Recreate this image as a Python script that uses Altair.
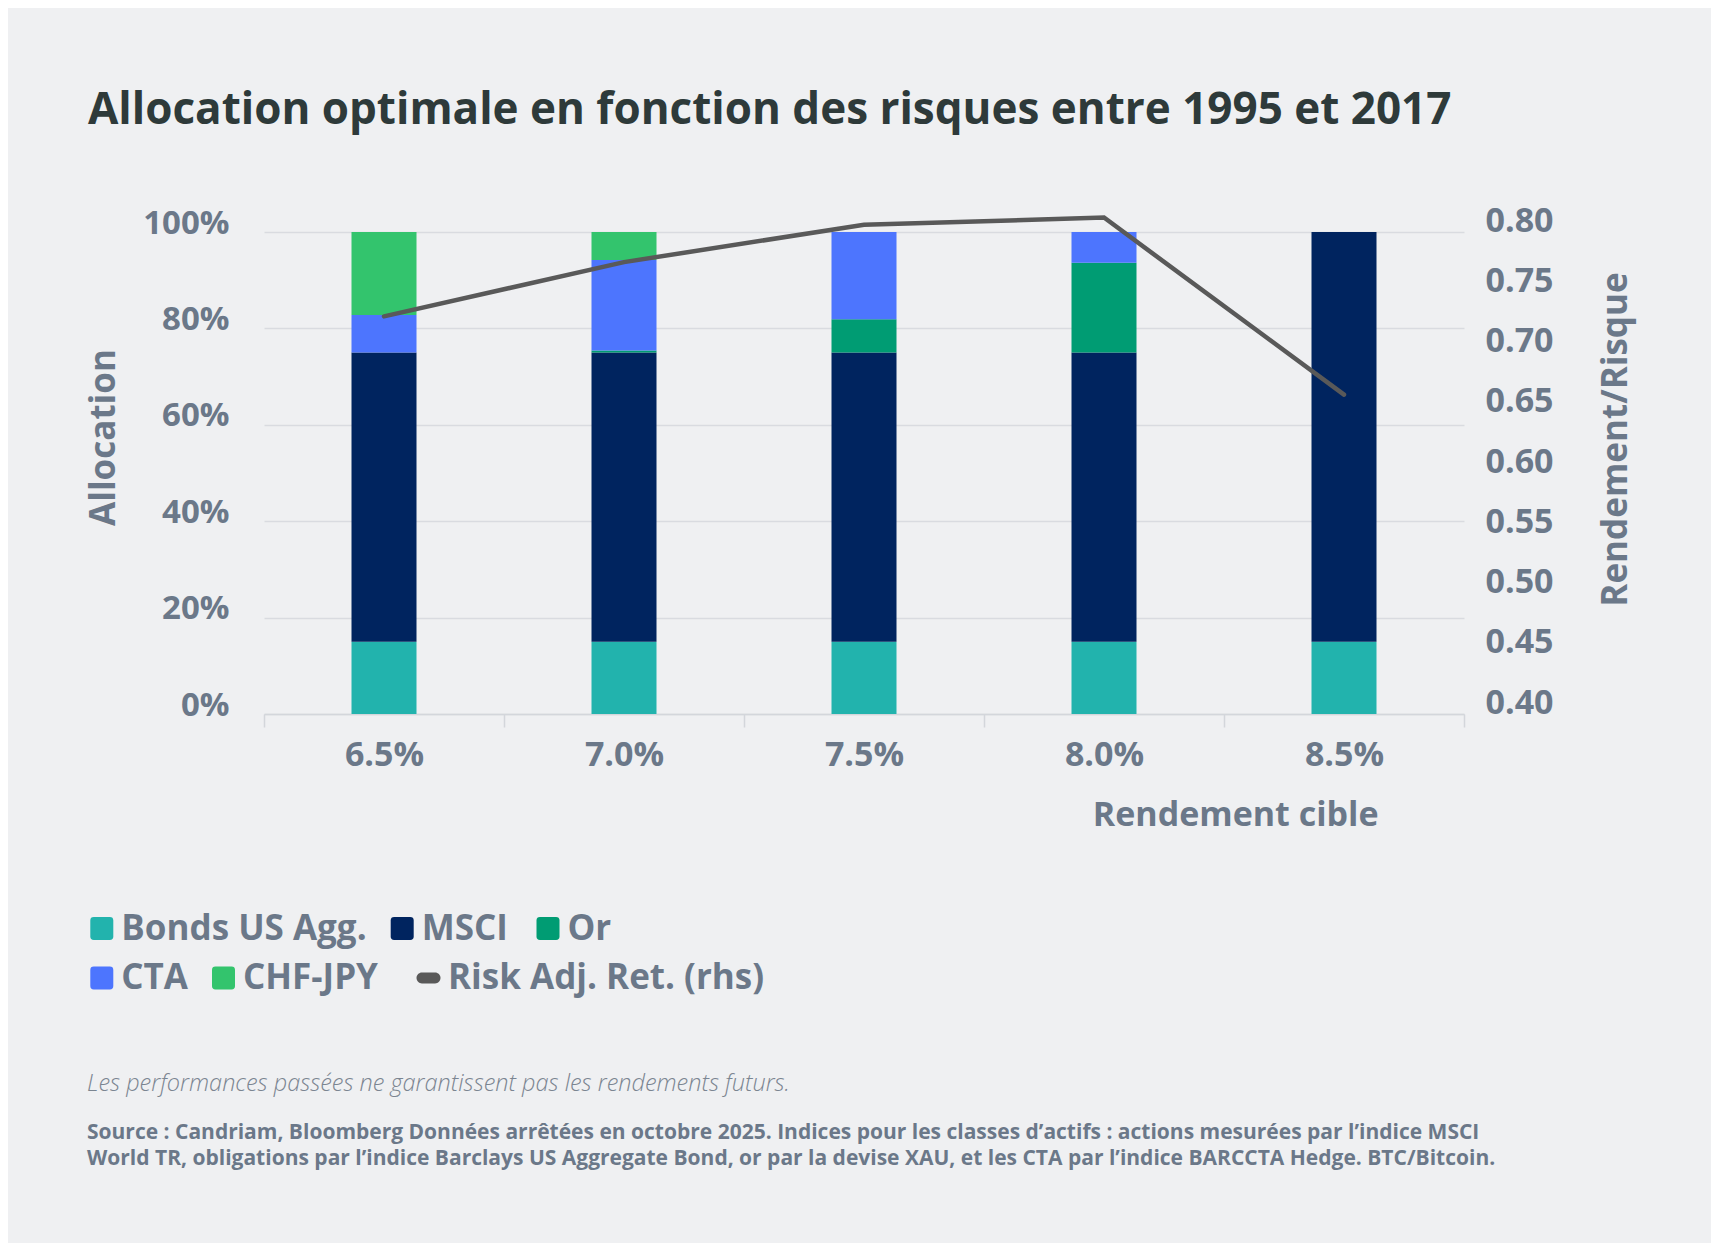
import altair as alt
import pandas as pd

# ---- data ----
targets = ["6.5%", "7.0%", "7.5%", "8.0%", "8.5%"]
assets = ["Bonds US Agg.", "MSCI", "Or", "CTA", "CHF-JPY"]
bonds = [15, 15, 15, 15, 15]
msci = [60, 60, 60, 60, 85]
gold = [0, 0.4, 6.9, 18.6, 0]
cta = [7.8, 18.8, 18.1, 6.4, 0]
chf_jpy = [17.2, 5.8, 0, 0, 0]
risk_adj = [0.73, 0.775, 0.806, 0.812, 0.665]
line_name = "Risk Adj. Ret. (rhs)"

asset_colors = ["#22b3ad", "#00245f", "#009c73", "#4d75fe", "#33c46d"]
line_color = "#595959"

title_text = "Allocation optimale en fonction des risques entre 1995 et 2017"
note_text = "Les performances passées ne garantissent pas les rendements futurs."
source_1 = ("Source : Candriam, Bloomberg Données arrêtées en octobre 2025. Indices pour les classes d’actifs : "
            "actions mesurées par l’indice MSCI")
source_2 = ("World TR, obligations par l’indice Barclays US Aggregate Bond, or par la devise XAU, "
            "et les CTA par l’indice BARCCTA Hedge. BTC/Bitcoin.")

# legend placement (pixels relative to the plot origin) - layout only
legend_pos = {
    "Bonds US Agg.": (-179.7, 679),
    "MSCI": (120.7, 679),
    "Or": (266.5, 679),
    "CTA": (-179.7, 728.5),
    "CHF-JPY": (-58.0, 728.5),
}
line_legend_pos = (147.0, 728.5)

# ---- tables ----
series = [bonds, msci, gold, cta, chf_jpy]
rows = []
for k, (name, vals) in enumerate(zip(assets, series)):
    for t, v in zip(targets, vals):
        rows.append({"target": t, "asset": name, "value": v, "idx": k})
df_bars = pd.DataFrame(rows)
df_line = pd.DataFrame({"target": targets, "ratio": risk_adj, "serie": [line_name] * len(targets)})

FONT = "Open Sans"
GRAY = "#6b7889"
GRID = "#d9dbe0"
BG = "#eff0f2"

ROUND_SQ = "M-0.7,-1H0.7Q1,-1,1,-0.7V0.7Q1,1,0.7,1H-0.7Q-1,1,-1,0.7V-0.7Q-1,-1,-0.7,-1Z"
PILL = "M-0.55,-0.45H0.55A0.45,0.45,0,0,1,0.55,0.45H-0.55A0.45,0.45,0,0,1,-0.55,-0.45Z"

x_enc = alt.X(
    "target:N", sort=targets,
    scale=alt.Scale(paddingInner=0, paddingOuter=0),
    axis=alt.Axis(
        title="Rendement cible", titleX=1114, titleY=101, titleAlign="right",
        titleBaseline="middle", titleFont=FONT, titleFontSize=34, titleFontWeight=700,
        titleColor=GRAY, labelAngle=0, labelFont=FONT, labelFontSize=34,
        labelFontWeight=700, labelColor=GRAY, labelPadding=28, labelBaseline="middle",
        ticks=True, tickBand="extent", tickSize=13, tickColor="#d3d6db", tickWidth=1.5,
        domain=True, domainColor="#d3d6db", domainWidth=1.5, grid=False,
    ),
)

y_axis = alt.Axis(
    values=[0, 20, 40, 60, 80, 100], labelExpr="datum.value + '%'",
    title="Allocation", titleX=-161, titleY=205, titleAngle=270,
    titleAlign="center", titleBaseline="middle", titleFont=FONT,
    titleFontSize=35, titleFontWeight=700, titleColor=GRAY,
    labelFont=FONT, labelFontSize=33, labelFontWeight=700, labelColor=GRAY,
    labelPadding=35, labelBaseline="alphabetic", labelOffset=1,
    ticks=False, domain=False, grid=True, gridColor=GRID, gridWidth=1.5,
)

stack_sort = [alt.SortField("idx", order="ascending")]
bar_layers = []
for name, color in zip(assets, asset_colors):
    lx, ly = legend_pos[name]
    layer = (
        alt.Chart(df_bars)
        .transform_stack(stack="value", as_=["y0", "y1"], groupby=["target"], sort=stack_sort)
        .transform_filter(alt.datum.asset == name)
        .mark_bar(size=65)
        .encode(
            x=x_enc,
            y=alt.Y("y0:Q", scale=alt.Scale(domain=[0, 100], nice=False), axis=y_axis),
            y2="y1:Q",
            color=alt.Color(
                "asset:N",
                scale=alt.Scale(domain=[name], range=[color]),
                legend=alt.Legend(
                    title=None, orient="none", legendX=lx, legendY=ly,
                    symbolType=ROUND_SQ, symbolSize=529, symbolStrokeWidth=0,
                    labelFont=FONT, labelFontSize=35, labelFontWeight=700,
                    labelColor=GRAY, labelOffset=2, padding=0, labelLimit=0,
                ),
            ),
        )
    )
    bar_layers.append(layer)

bars = alt.layer(*bar_layers).resolve_scale(color="independent")

line = alt.Chart(df_line).mark_line(strokeWidth=4.5, strokeCap="round").encode(
    x=alt.X("target:N", sort=targets),
    y=alt.Y(
        "ratio:Q",
        scale=alt.Scale(domain=[0.4, 0.8], nice=False, zero=False),
        axis=alt.Axis(
            orient="right", values=[0.40, 0.45, 0.50, 0.55, 0.60, 0.65, 0.70, 0.75, 0.80],
            format=".2f", title="Rendement/Risque", titleX=151, titleY=207,
            titleAngle=270, titleAlign="center", titleBaseline="middle",
            titleFont=FONT, titleFontSize=35, titleFontWeight=700, titleColor=GRAY,
            labelFont=FONT, labelFontSize=34, labelFontWeight=700, labelColor=GRAY,
            labelPadding=21, labelBaseline="alphabetic", labelOffset=-1,
            ticks=False, domain=False, grid=False,
        ),
    ),
    stroke=alt.Stroke(
        "serie:N",
        scale=alt.Scale(domain=[line_name], range=[line_color]),
        legend=alt.Legend(
            title=None, orient="none", legendX=line_legend_pos[0], legendY=line_legend_pos[1],
            symbolType=PILL, symbolSize=576, symbolFillColor=line_color,
            symbolStrokeWidth=0, labelFont=FONT, labelFontSize=35,
            labelFontWeight=700, labelColor=GRAY, labelOffset=2, padding=0,
            labelLimit=0,
        ),
    ),
)

note = alt.Chart(pd.DataFrame({"t": [note_text]})).mark_text(
    align="left", baseline="middle", font=FONT, fontSize=23.5, fontStyle="italic",
    fontWeight=300, color="#7b8591",
).encode(x=alt.value(-177), y=alt.value(852), text="t:N")

src1 = alt.Chart(pd.DataFrame({"t": [source_1]})).mark_text(
    align="left", baseline="middle", font=FONT, fontSize=21, fontWeight=700, color=GRAY,
).encode(x=alt.value(-177), y=alt.value(900.5), text="t:N")

src2 = alt.Chart(pd.DataFrame({"t": [source_2]})).mark_text(
    align="left", baseline="middle", font=FONT, fontSize=21, fontWeight=700, color=GRAY,
).encode(x=alt.value(-177), y=alt.value(926.5), text="t:N")

chart = (
    alt.layer(bars, line, note, src1, src2)
    .resolve_scale(y="independent", color="independent", stroke="independent")
    .properties(
        width=1200, height=482,
        autosize=alt.AutoSizeParams(type="none"),
        padding={"left": 256, "top": 224, "right": 247, "bottom": 529},
        background=BG,
        title=alt.TitleParams(
            text=title_text, anchor="start", frame="group", dx=-176, offset=36,
            font=FONT, fontSize=44, fontWeight=700, color="#2e3a3a", baseline="alphabetic",
        ),
    )
    .configure_view(stroke=None)
)

chart.save("out.html", embed_options={"renderer": "svg", "actions": False})
